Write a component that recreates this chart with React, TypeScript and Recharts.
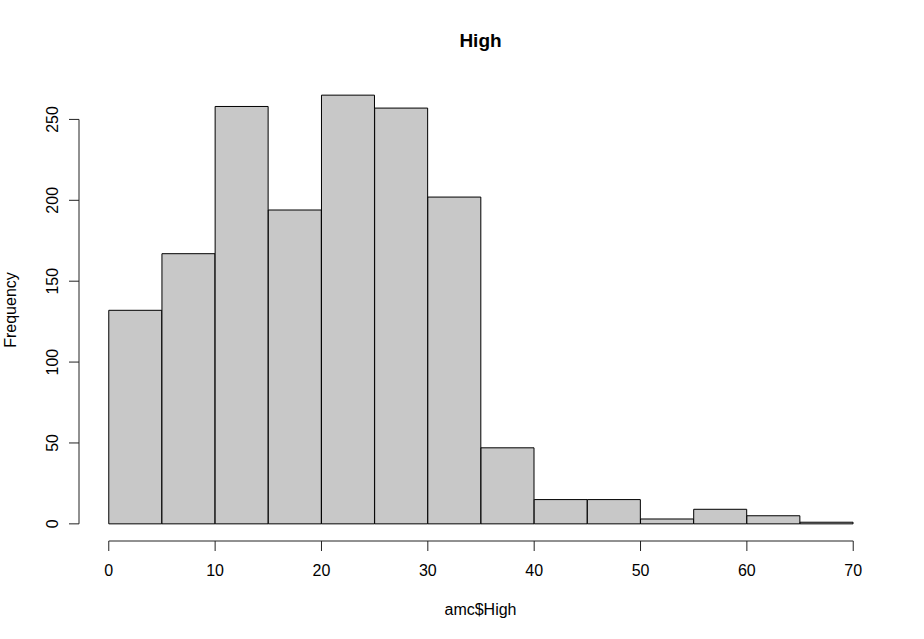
import React from "react";
import { BarChart, Bar, XAxis, YAxis, ReferenceLine } from "recharts";

const binStarts = [0, 5, 10, 15, 20, 25, 30, 35, 40, 45, 50, 55, 60, 65];
const binWidth = 5;
const counts = [132, 167, 258, 194, 265, 257, 202, 47, 15, 15, 3, 9, 5, 1];
const xTicks = [0, 10, 20, 30, 40, 50, 60, 70];
const yTicks = [0, 50, 100, 150, 200, 250];
const title = "High";
const xLabel = "amc$High";
const yLabel = "Frequency";

const data = binStarts.map((b, i) => ({ mid: b + binWidth / 2, count: counts[i] }));

const FONT = "'Liberation Sans', Arial, Helvetica, sans-serif";

const X_DOMAIN: [number, number] = [-2.8, 72.8];
const Y_DOMAIN: [number, number] = [-10.6, 275.6];

const YTick = (props: any) => {
  const { x, y, payload } = props;
  const tx = x - 9;
  return (
    <text
      x={tx}
      y={y}
      transform={`rotate(-90, ${tx}, ${y})`}
      textAnchor="middle"
      fontSize={16}
      fontFamily={FONT}
      fill="#000"
    >
      {payload.value}
    </text>
  );
};

export default function App() {
  return (
    <div style={{ position: "absolute", left: 0, top: 0, width: 924, height: 639, background: "#fff" }}>
      <BarChart
        width={924}
        height={639}
        data={data}
        barCategoryGap={0}
        barGap={0}
        margin={{ top: 78, right: 41, bottom: 38, left: 19 }}
      >
        <XAxis
          dataKey="mid"
          type="number"
          domain={X_DOMAIN}
          allowDataOverflow
          ticks={xTicks}
          axisLine={false}
          tickLine={{ stroke: "#222", strokeWidth: 1 }}
          tickSize={10}
          tickMargin={14}
          height={60}
          tick={{ fontSize: 16, fontFamily: FONT, fill: "#000" }}
          interval={0}
        />
        <YAxis
          type="number"
          domain={Y_DOMAIN}
          allowDataOverflow
          ticks={yTicks}
          axisLine={false}
          tickLine={{ stroke: "#222", strokeWidth: 1 }}
          tickSize={10}
          width={60}
          tick={<YTick />}
          interval={0}
        />
        <Bar
          dataKey="count"
          fill="#c8c8c8"
          stroke="#000"
          strokeWidth={1}
          isAnimationActive={false}
        />
        <ReferenceLine
          ifOverflow="visible"
          segment={[{ x: xTicks[0], y: Y_DOMAIN[0] }, { x: xTicks[xTicks.length - 1], y: Y_DOMAIN[0] }]}
          stroke="#222"
          strokeWidth={1}
        />
        <ReferenceLine
          ifOverflow="visible"
          segment={[{ x: X_DOMAIN[0], y: yTicks[0] }, { x: X_DOMAIN[0], y: yTicks[yTicks.length - 1] }]}
          stroke="#222"
          strokeWidth={1}
        />
        <text x={480.5} y={47} textAnchor="middle" fontSize={19} fontWeight="bold" fontFamily={FONT} fill="#000">
          {title}
        </text>
        <text x={480.5} y={615} textAnchor="middle" fontSize={16} fontFamily={FONT} fill="#000">
          {xLabel}
        </text>
        <text
          x={16}
          y={310}
          transform="rotate(-90, 16, 310)"
          textAnchor="middle"
          fontSize={16}
          fontFamily={FONT}
          fill="#000"
        >
          {yLabel}
        </text>
      </BarChart>
    </div>
  );
}
